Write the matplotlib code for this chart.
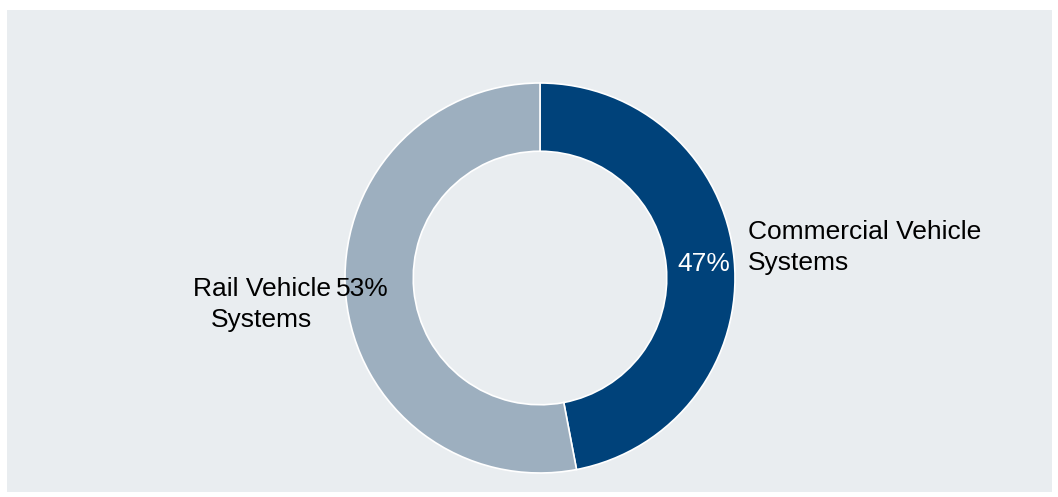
import matplotlib.pyplot as plt
from matplotlib.patches import Rectangle

segments = ["Commercial Vehicle\nSystems", "Rail Vehicle\nSystems"]
shares = [47, 53]
colors = ["#00427A", "#9DAFBF"]

plt.rcParams["font.family"] = ["Liberation Sans", "DejaVu Sans"]

W, H = 1058, 497
fig = plt.figure(figsize=(W / 100, H / 100), dpi=100)
fig.patch.set_facecolor("white")
fig.patches.append(
    Rectangle((7 / W, 5 / H), 1045 / W, 482 / H, transform=fig.transFigure,
              facecolor="#E9EDF0", edgecolor="none", zorder=-10)
)

ax = fig.add_axes([0, 0, 1, 1])
ax.set_facecolor("none")
ax.pie(shares, colors=colors, startangle=90, counterclock=False, radius=1.0,
       wedgeprops=dict(width=0.35, edgecolor="white", linewidth=1.2))

# pie() resets the limits, so fix the placement afterwards
cx, cy, r = 540, H - 278, 195
ax.set_xlim((0 - cx) / r, (W - cx) / r)
ax.set_ylim((0 - cy) / r, (H - cy) / r)
ax.set_aspect("equal")
ax.axis("off")

fs = 19
ax.text(1.067, 0.154, segments[0], ha="left", va="center", fontsize=fs,
        linespacing=1.37, color="black")
ax.text(0.841, 0.072, f"{shares[0]}%", ha="center", va="center", fontsize=fs,
        color="white")
ax.text(-1.426, -0.136, segments[1], ha="center", va="center", fontsize=fs,
        linespacing=1.37, color="black")
ax.text(-0.913, -0.056, f"{shares[1]}%", ha="center", va="center", fontsize=fs,
        color="black")

fig.savefig("out.png", dpi=100)
